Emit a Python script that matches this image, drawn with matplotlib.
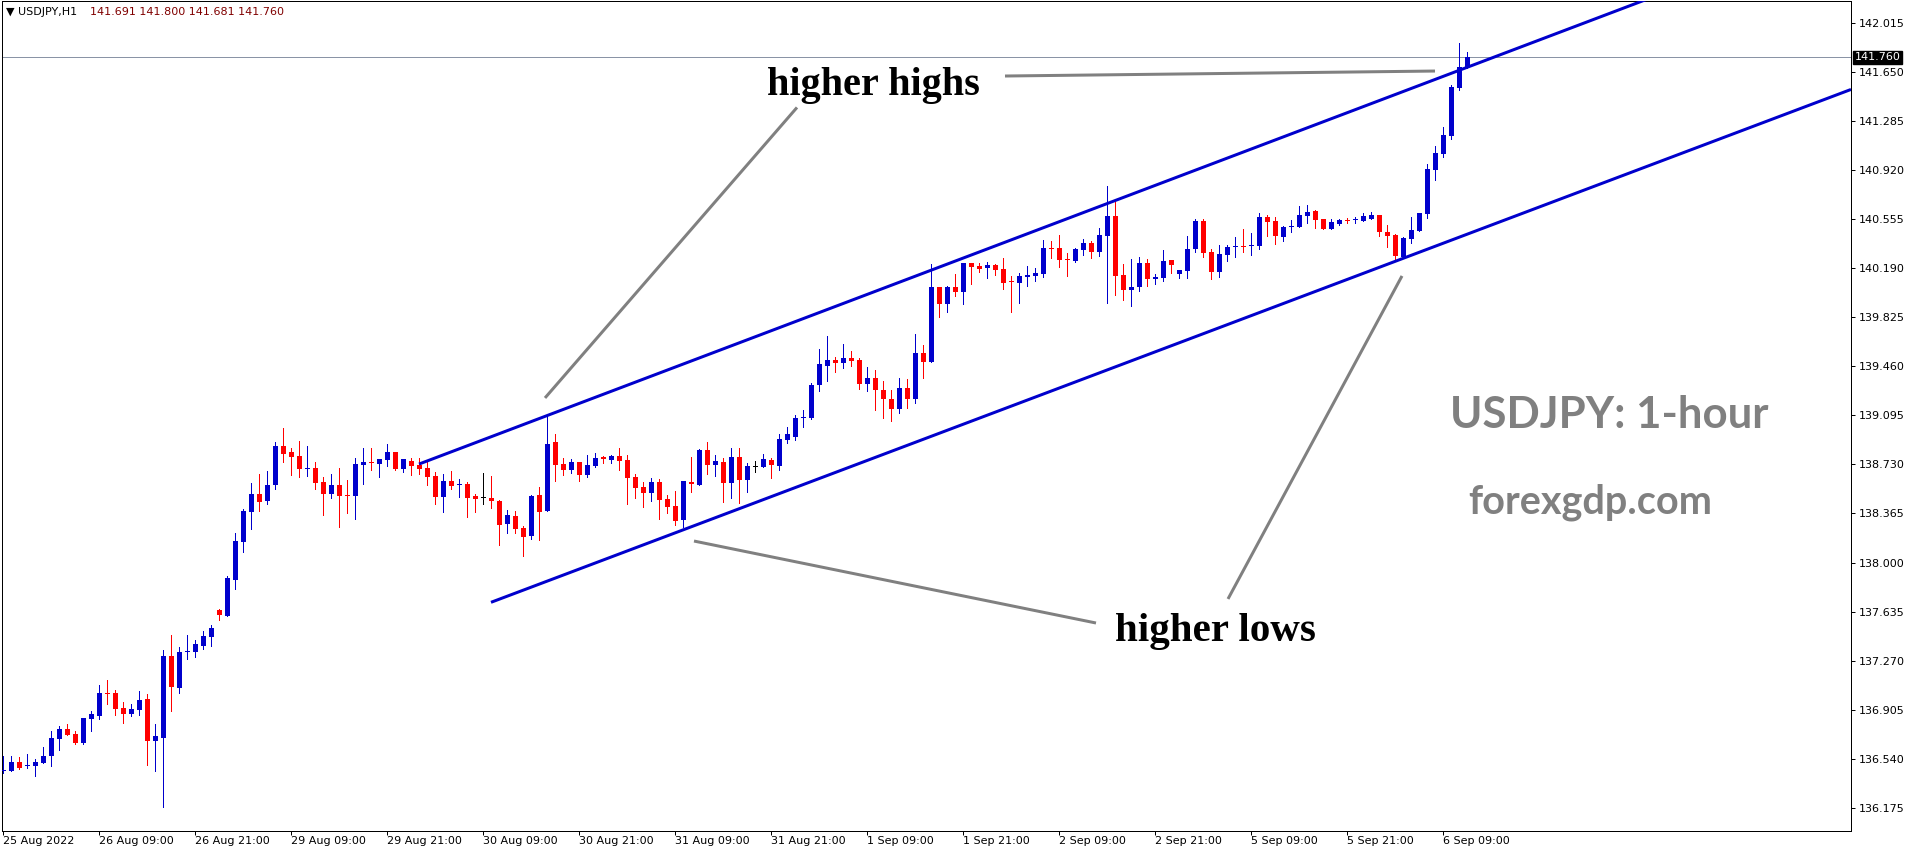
import matplotlib
matplotlib.use('Agg')
import matplotlib.pyplot as plt
import matplotlib.transforms as mtransforms

# USDJPY H1 candles, first bar = 25 Aug 2022 21:00
opens = [136.448, 136.451, 136.515, 136.488, 136.488, 136.510, 136.562, 136.689, 136.761, 136.724,
         136.654, 136.838, 136.860, 137.029, 137.029, 136.917, 136.875, 136.905, 136.984, 136.674,
         136.696, 137.304, 137.068, 137.331, 137.336, 137.381, 137.448, 137.647, 137.602, 137.870,
         138.153, 138.379, 138.510, 138.461, 138.577, 138.867, 138.823, 138.793, 138.699, 138.704,
         138.600, 138.510, 138.577, 138.500, 138.495, 138.728, 138.745, 138.736, 138.765, 138.822,
         138.698, 138.755, 138.726, 138.703, 138.644, 138.490, 138.607, 138.575, 138.584, 138.495,
         138.478, 138.480, 138.458, 138.284, 138.346, 138.257, 138.200, 138.502, 138.386, 138.897,
         138.734, 138.689, 138.749, 138.654, 138.721, 138.786, 138.766, 138.793, 138.763, 138.637,
         138.562, 138.520, 138.600, 138.473, 138.421, 138.319, 138.600, 138.580, 138.838, 138.729,
         138.749, 138.595, 138.786, 138.617, 138.711, 138.711, 138.763, 138.721, 138.915, 138.937,
         139.074, 139.078, 139.324, 139.465, 139.507, 139.487, 139.522, 139.507, 139.331, 139.373,
         139.284, 139.217, 139.145, 139.299, 139.219, 139.559, 139.495, 140.051, 139.927, 140.051,
         140.016, 140.229, 140.207, 140.195, 140.215, 140.185, 140.093, 140.083, 140.128, 140.136,
         140.150, 140.341, 140.341, 140.257, 140.247, 140.329, 140.379, 140.314, 140.433, 140.580,
         140.140, 140.031, 140.054, 140.230, 140.113, 140.121, 140.252, 140.150, 140.173, 140.336,
         140.542, 140.312, 140.165, 140.292, 140.349, 140.353, 140.354, 140.359, 140.572, 140.542,
         140.426, 140.500, 140.500, 140.582, 140.617, 140.557, 140.485, 140.523, 140.547, 140.548,
         140.545, 140.560, 140.587, 140.463, 140.438, 140.277, 140.406, 140.470, 140.597, 140.924,
         141.044, 141.178, 141.535, 141.691]
highs = [136.560, 136.560, 136.552, 136.575, 136.538, 136.627, 136.746, 136.783, 136.798, 136.746,
         136.845, 136.897, 137.088, 137.126, 137.051, 136.962, 136.947, 137.046, 137.021, 136.798,
         137.349, 137.460, 137.371, 137.460, 137.423, 137.490, 137.535, 137.654, 137.900, 138.220,
         138.399, 138.592, 138.659, 138.681, 138.897, 139.001, 138.853, 138.905, 138.867, 138.748,
         138.637, 138.659, 138.704, 138.614, 138.778, 138.852, 138.852, 138.770, 138.882, 138.822,
         138.770, 138.778, 138.778, 138.763, 138.674, 138.659, 138.681, 138.621, 138.599, 138.510,
         138.666, 138.644, 138.465, 138.391, 138.383, 138.272, 138.502, 138.562, 139.098, 138.957,
         138.778, 138.771, 138.749, 138.801, 138.816, 138.793, 138.801, 138.853, 138.801, 138.659,
         138.600, 138.629, 138.622, 138.503, 138.533, 138.607, 138.786, 138.845, 138.897, 138.801,
         138.778, 138.853, 138.853, 138.741, 138.756, 138.808, 138.778, 138.957, 139.009, 139.100,
         139.135, 139.336, 139.589, 139.686, 139.530, 139.624, 139.574, 139.522, 139.455, 139.433,
         139.351, 139.284, 139.376, 139.368, 139.701, 139.619, 140.222, 140.051, 140.058, 140.147,
         140.229, 140.229, 140.230, 140.237, 140.222, 140.267, 140.133, 140.155, 140.207, 140.193,
         140.401, 140.394, 140.438, 140.304, 140.341, 140.408, 140.394, 140.490, 140.803, 140.684,
         140.222, 140.260, 140.274, 140.260, 140.148, 140.327, 140.252, 140.178, 140.431, 140.557,
         140.557, 140.334, 140.364, 140.364, 140.423, 140.483, 140.453, 140.602, 140.587, 140.572,
         140.505, 140.550, 140.654, 140.661, 140.624, 140.557, 140.560, 140.560, 140.567, 140.572,
         140.602, 140.609, 140.587, 140.513, 140.446, 140.423, 140.572, 140.604, 140.967, 141.101,
         141.242, 141.555, 141.867, 141.800]
lows = [136.431, 136.448, 136.463, 136.473, 136.414, 136.508, 136.488, 136.607, 136.716, 136.652,
        136.652, 136.748, 136.838, 136.949, 136.868, 136.808, 136.860, 136.868, 136.495, 136.451,
        136.183, 136.897, 137.031, 137.284, 137.294, 137.359, 137.381, 137.575, 137.602, 137.803,
        138.079, 138.250, 138.384, 138.436, 138.547, 138.748, 138.652, 138.637, 138.644, 138.547,
        138.354, 138.480, 138.265, 138.369, 138.324, 138.587, 138.691, 138.639, 138.721, 138.691,
        138.676, 138.654, 138.661, 138.579, 138.438, 138.378, 138.549, 138.490, 138.341, 138.378,
        138.438, 138.408, 138.133, 138.222, 138.222, 138.051, 138.177, 138.170, 138.386, 138.610,
        138.654, 138.669, 138.610, 138.639, 138.714, 138.744, 138.744, 138.691, 138.438, 138.483,
        138.416, 138.461, 138.327, 138.371, 138.282, 138.267, 138.528, 138.580, 138.662, 138.647,
        138.453, 138.483, 138.446, 138.528, 138.672, 138.711, 138.632, 138.691, 138.892, 138.912,
        139.011, 139.071, 139.279, 139.353, 139.420, 139.450, 139.465, 139.294, 139.279, 139.138,
        139.076, 139.056, 139.115, 139.152, 139.190, 139.376, 139.495, 139.830, 139.867, 139.986,
        139.927, 140.075, 140.165, 140.121, 140.143, 140.039, 139.868, 139.935, 140.061, 140.098,
        140.128, 140.269, 140.203, 140.136, 140.240, 140.292, 140.269, 140.284, 139.935, 139.994,
        139.957, 139.912, 140.024, 140.061, 140.076, 140.098, 140.158, 140.121, 140.121, 140.314,
        140.277, 140.113, 140.128, 140.247, 140.277, 140.314, 140.292, 140.336, 140.433, 140.374,
        140.396, 140.463, 140.500, 140.530, 140.493, 140.485, 140.485, 140.515, 140.530, 140.530,
        140.545, 140.560, 140.433, 140.346, 140.257, 140.269, 140.381, 140.465, 140.567, 140.850,
        141.021, 141.155, 141.520, 141.681]
closes = [136.456, 136.515, 136.473, 136.493, 136.513, 136.560, 136.694, 136.761, 136.719, 136.659,
          136.843, 136.873, 137.029, 137.024, 136.912, 136.875, 136.910, 136.977, 136.674, 136.709,
          137.304, 137.076, 137.334, 137.339, 137.394, 137.453, 137.513, 137.612, 137.885, 138.160,
          138.384, 138.510, 138.451, 138.577, 138.867, 138.810, 138.788, 138.696, 138.704, 138.592,
          138.510, 138.577, 138.495, 138.495, 138.734, 138.748, 138.740, 138.770, 138.822, 138.696,
          138.770, 138.721, 138.698, 138.639, 138.490, 138.607, 138.572, 138.582, 138.482, 138.475,
          138.478, 138.460, 138.282, 138.353, 138.252, 138.192, 138.495, 138.378, 138.882, 138.729,
          138.691, 138.749, 138.654, 138.726, 138.778, 138.773, 138.793, 138.758, 138.632, 138.557,
          138.520, 138.600, 138.468, 138.416, 138.312, 138.607, 138.587, 138.838, 138.729, 138.756,
          138.595, 138.786, 138.617, 138.719, 138.711, 138.771, 138.726, 138.920, 138.957, 139.076,
          139.080, 139.324, 139.477, 139.507, 139.487, 139.522, 139.502, 139.331, 139.373, 139.284,
          139.219, 139.145, 139.299, 139.219, 139.559, 139.495, 140.051, 139.927, 140.051, 140.016,
          140.229, 140.202, 140.185, 140.215, 140.180, 140.083, 140.089, 140.133, 140.140, 140.155,
          140.341, 140.337, 140.255, 140.253, 140.334, 140.379, 140.314, 140.438, 140.580, 140.136,
          140.031, 140.051, 140.230, 140.113, 140.126, 140.245, 140.217, 140.178, 140.334, 140.542,
          140.307, 140.165, 140.297, 140.349, 140.353, 140.349, 140.358, 140.572, 140.537, 140.433,
          140.498, 140.504, 140.587, 140.609, 140.552, 140.485, 140.537, 140.550, 140.544, 140.551,
          140.580, 140.587, 140.463, 140.433, 140.282, 140.416, 140.475, 140.604, 140.929, 141.049,
          141.182, 141.540, 141.689, 141.760]

date_labels = ['25 Aug 2022', '26 Aug 09:00', '26 Aug 21:00', '29 Aug 09:00', '29 Aug 21:00',
               '30 Aug 09:00', '30 Aug 21:00', '31 Aug 09:00', '31 Aug 21:00', '1 Sep 09:00',
               '1 Sep 21:00', '2 Sep 09:00', '2 Sep 21:00', '5 Sep 09:00', '5 Sep 21:00', '6 Sep 09:00']
price_ticks = [136.175, 136.540, 136.905, 137.270, 137.635, 138.000, 138.365, 138.730, 139.095,
               139.460, 139.825, 140.190, 140.555, 140.920, 141.285, 141.650, 142.015]
last_price = 141.760

# trend channel (bar index, price) pairs
upper_channel = ([52.0, 212.0], [138.733, 142.339])
lower_channel = ([61.0, 231.0], [137.704, 141.521])
# grey pointer lines
pointers = [([125.25, 179.0], [141.621, 141.658]),
            ([99.25, 67.75], [141.387, 139.225]),
            ([86.375, 136.625], [138.160, 137.550]),
            ([153.125, 174.875], [137.729, 140.133])]

BLUE = '#0000cc'
RED = '#ff0000'
W, H = 1916, 850

fig = plt.figure(figsize=(W / 100, H / 100), dpi=100)
ax = fig.add_axes([2 / W, 1 - 831 / H, (1851 - 2) / W, (831 - 0.5) / H])
ax.set_xlim(-0.125, 231.0)
ax.set_ylim(136.002, 142.183)

px = 0.72  # one pixel in points
for i in range(len(opens)):
    o, h, l, c = opens[i], highs[i], lows[i], closes[i]
    if c > o:
        col = BLUE
    elif c < o:
        col = RED
    else:
        col = 'black'
    ax.vlines(i, l, h, color=col, lw=px, antialiased=False, zorder=3)
    ax.bar(i, max(abs(c - o), 0.0075), bottom=min(o, c), width=0.625,
           color=col, lw=0, antialiased=False, zorder=3)

ax.axhline(last_price, color='#8a94a6', lw=px, zorder=1)

for xs, ys in (upper_channel, lower_channel):
    ax.plot(xs, ys, color=BLUE, lw=3 * px, solid_capstyle='butt', zorder=4)
for xs, ys in pointers:
    ax.plot(xs, ys, color='#808080', lw=3 * px, solid_capstyle='butt', zorder=4)

# axes look like MT4
for s in ax.spines.values():
    s.set_linewidth(px)
    s.set_color('black')
ax.yaxis.tick_right()
ax.set_yticks(price_ticks)
ax.set_yticklabels(['%.3f' % p for p in price_ticks])
ax.set_xticks(range(0, 12 * len(date_labels), 12))
ax.set_xticklabels(date_labels, ha='left')
ax.tick_params(axis='both', direction='out', length=4 * px, width=px, labelsize=8, colors='black')
ax.tick_params(axis='x', pad=1)
ax.tick_params(axis='y', pad=3)

tr = mtransforms.blended_transform_factory(ax.transAxes, ax.transData)
ax.text(1.002, last_price, '%.3f' % last_price, transform=tr, fontsize=8, color='white',
        va='center', ha='left', zorder=5,
        bbox=dict(boxstyle='square,pad=0.15', fc='black', ec='black'))

# header
fig.text(6 / W, 1 - 12 / H, '\u25bc USDJPY,H1', fontsize=8, color='black', va='center')
fig.text(90 / W, 1 - 12 / H, '141.691 141.800 141.681 141.760', fontsize=8,
         color='#800000', va='center')

# annotations
fig.text(873 / W, 1 - 86 / H, 'higher highs', fontsize=29, fontweight='bold',
         family='Liberation Serif', ha='center', va='center')
fig.text(1215 / W, 1 - 632 / H, 'higher lows', fontsize=29.5, fontweight='bold',
         family='Liberation Serif', ha='center', va='center')
fig.text(1609 / W, 1 - 415 / H, 'USDJPY: 1-hour', fontsize=31.5, fontweight='bold',
         family='Lato', color='#808080', ha='center', va='center')
fig.text(1590 / W, 1 - 502 / H, 'forexgdp.com', fontsize=28.5, fontweight='bold',
         family='Lato', color='#808080', ha='center', va='center')

fig.savefig('out.png', dpi=100, facecolor='white')
